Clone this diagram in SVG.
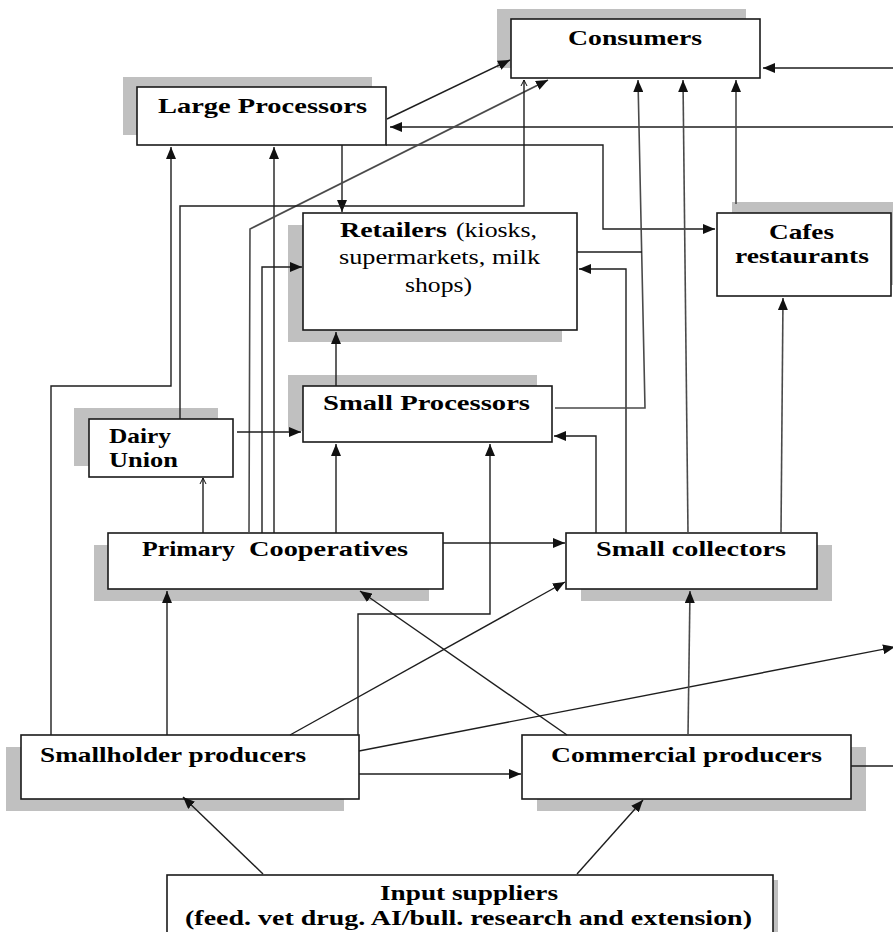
<svg xmlns="http://www.w3.org/2000/svg" width="893" height="932" viewBox="0 0 893 932">
<style>
.sh{fill:#c0c0c0}
.bx{fill:#fff;stroke:#1a1a1a;stroke-width:1.6}
.t{font-family:"Liberation Serif","Times New Roman",serif;font-size:21px;fill:#000}
.b{font-weight:bold}
.c path{fill:none;stroke:#1e1e1e;stroke-width:1.4}
.c path.g{stroke:#4a4a4a;stroke-width:1.6}
</style>
<defs>
<marker id="a" markerUnits="userSpaceOnUse" markerWidth="12" markerHeight="10" refX="12" refY="5" orient="auto"><path d="M0,0 L12,5 L0,10 z" fill="#111"/></marker>
<marker id="o" markerUnits="userSpaceOnUse" markerWidth="8" markerHeight="8" refX="6" refY="4" orient="auto"><path d="M0,1 L6,4 L0,7" fill="none" stroke="#111" stroke-width="1"/></marker>
</defs>
<rect width="893" height="932" fill="#fff"/>

<g id="consumers"><rect class="sh" x="497" y="9" width="249" height="59"/><rect class="bx" x="511" y="19" width="249" height="59"/><text class="t b" x="568" y="45" textLength="134" lengthAdjust="spacingAndGlyphs">Consumers</text></g>
<g id="large-processors"><rect class="sh" x="123" y="77" width="249" height="58"/><rect class="bx" x="137" y="87" width="249" height="58"/><text class="t b" x="158" y="113" textLength="209" lengthAdjust="spacingAndGlyphs">Large Processors</text></g>
<g id="retailers"><rect class="sh" x="288" y="225" width="274" height="117"/><rect class="bx" x="303" y="213" width="274" height="117"/><text class="t b" x="340" y="237" textLength="107" lengthAdjust="spacingAndGlyphs">Retailers</text><text class="t" x="456" y="237" textLength="81" lengthAdjust="spacingAndGlyphs">(kiosks,</text><text class="t" x="339" y="264" textLength="201" lengthAdjust="spacingAndGlyphs">supermarkets, milk</text><text class="t" x="405" y="292" textLength="67" lengthAdjust="spacingAndGlyphs">shops)</text></g>
<g id="cafes"><rect class="sh" x="732" y="202" width="174" height="83"/><rect class="bx" x="717" y="213" width="174" height="83"/><text class="t b" x="769" y="239" textLength="65" lengthAdjust="spacingAndGlyphs">Cafes</text><text class="t b" x="735" y="263" textLength="134" lengthAdjust="spacingAndGlyphs">restaurants</text></g>
<g id="small-processors"><rect class="sh" x="288" y="375" width="249" height="56"/><rect class="bx" x="303" y="386" width="249" height="56"/><text class="t b" x="323" y="410" textLength="207" lengthAdjust="spacingAndGlyphs">Small Processors</text></g>
<g id="dairy-union"><rect class="sh" x="74" y="408" width="144" height="58"/><rect class="bx" x="89" y="419" width="144" height="58"/><text class="t b" x="109" y="443" textLength="62" lengthAdjust="spacingAndGlyphs">Dairy</text><text class="t b" x="109" y="467" textLength="69" lengthAdjust="spacingAndGlyphs">Union</text></g>
<g id="primary-cooperatives"><rect class="sh" x="94" y="545" width="335" height="56"/><rect class="bx" x="108" y="533" width="335" height="56"/><text class="t b" x="142" y="556" textLength="93" lengthAdjust="spacingAndGlyphs">Primary</text><text class="t b" x="249" y="556" textLength="159" lengthAdjust="spacingAndGlyphs">Cooperatives</text></g>
<g id="small-collectors"><rect class="sh" x="581" y="545" width="251" height="56"/><rect class="bx" x="566" y="533" width="251" height="56"/><text class="t b" x="596" y="556" textLength="190" lengthAdjust="spacingAndGlyphs">Small collectors</text></g>
<g id="smallholder-producers"><rect class="sh" x="6" y="747" width="338" height="64"/><rect class="bx" x="21" y="735" width="338" height="64"/><text class="t b" x="40" y="762" textLength="266" lengthAdjust="spacingAndGlyphs">Smallholder producers</text></g>
<g id="commercial-producers"><rect class="sh" x="537" y="747" width="329" height="64"/><rect class="bx" x="522" y="735" width="329" height="64"/><text class="t b" x="551" y="762" textLength="271" lengthAdjust="spacingAndGlyphs">Commercial producers</text></g>
<g id="input-suppliers"><rect class="sh" x="172" y="880" width="606" height="70"/><rect class="bx" x="167" y="875" width="606" height="70"/><text class="t b" x="380" y="900" textLength="178" lengthAdjust="spacingAndGlyphs">Input suppliers</text><text class="t b" x="185" y="925" style="font-size:20px" textLength="567" lengthAdjust="spacingAndGlyphs">(feed. vet drug. AI/bull. research and extension)</text></g>

<g id="connectors" class="c">
<path d="M387,119 L510,60" marker-end="url(#a)"/>
<path d="M893,127 L390,127" marker-end="url(#a)"/>
<path d="M893,68 L763,68" marker-end="url(#a)"/>
<path d="M386,145 L603,145 L603,229 L715,229" marker-end="url(#a)"/>
<path d="M342,145 L342,212" marker-end="url(#a)"/>
<path d="M51,735 L51,386 L171,386 L171,147" marker-end="url(#a)"/>
<path d="M274,533 L274,147" marker-end="url(#a)"/>
<path d="M262,533 L262,267 L302,267" marker-end="url(#a)"/>
<path class="g" d="M249,533 L250,229 L548,80" marker-end="url(#a)"/>
<path d="M180,419 L180,206 L524,206 L524,80" marker-end="url(#o)"/>
<path d="M237,432 L301,432" marker-end="url(#a)"/>
<path d="M203,533 L203,478" marker-end="url(#o)"/>
<path d="M336,533 L336,444" marker-end="url(#a)"/>
<path d="M336,386 L336,332" marker-end="url(#a)"/>
<path d="M443,543 L565,543" marker-end="url(#a)"/>
<path d="M596,533 L596,436 L554,436" marker-end="url(#a)"/>
<path d="M626,533 L626,269 L579,269" marker-end="url(#a)"/>
<path class="g" d="M555,408 L645,408 L638,80" marker-end="url(#a)"/>
<path d="M577,252 L642,252"/>
<path class="g" d="M688,533 L683,80" marker-end="url(#a)"/>
<path class="g" d="M781,533 L783,298" marker-end="url(#a)"/>
<path class="g" d="M736,204 L736,80" marker-end="url(#a)"/>
<path d="M167,735 L167,591" marker-end="url(#a)"/>
<path d="M358,735 L358,614 L490,614 L490,444" marker-end="url(#a)"/>
<path d="M290,735 L565,582" marker-end="url(#a)"/>
<path d="M567,735 L360,591" marker-end="url(#a)"/>
<path d="M359,751 L895,647" marker-end="url(#a)"/>
<path d="M359,774 L521,774" marker-end="url(#a)"/>
<path d="M851,766 L893,766"/>
<path class="g" d="M688,735 L690,591" marker-end="url(#a)"/>
<path d="M263,874 L183,797" marker-end="url(#a)"/>
<path d="M577,874 L643,800" marker-end="url(#a)"/>
</g>
</svg>
